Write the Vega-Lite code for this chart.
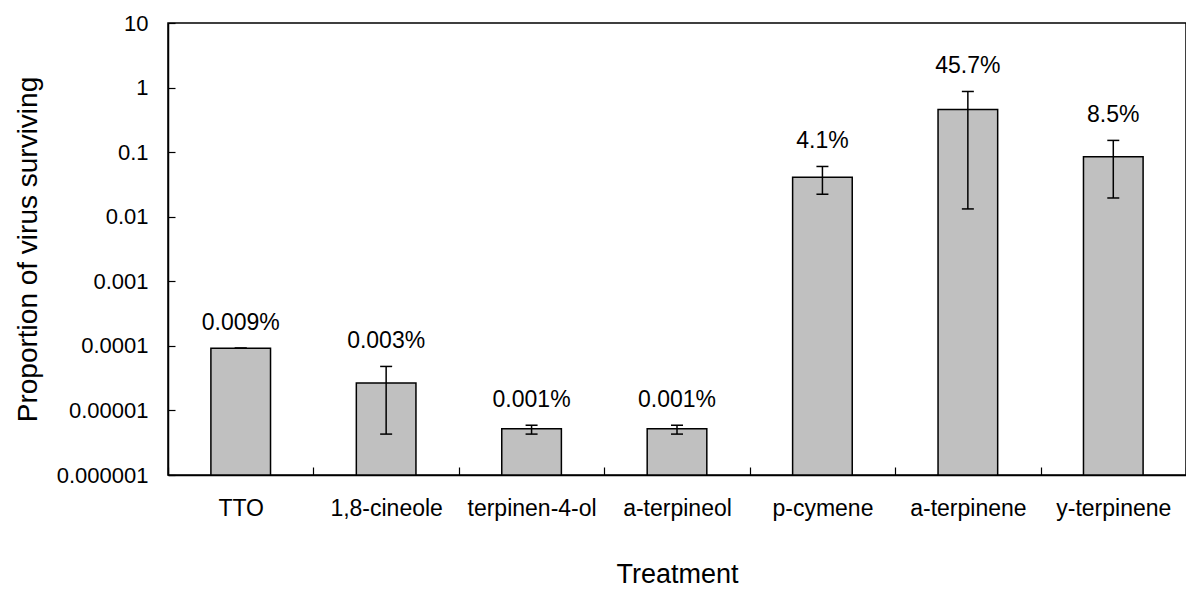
{
  "$schema": "https://vega.github.io/schema/vega-lite/v6.json",
  "width": 1018,
  "height": 452,
  "autosize": {"type": "none"},
  "padding": {"left": 168, "top": 23, "right": 0, "bottom": 118},
  "background": "white",
  "config": {
    "font": "Liberation Sans",
    "view": {"stroke": "black", "strokeWidth": 1.5},
    "axis": {
      "domainColor": "black", "domainWidth": 1.5,
      "tickColor": "black", "tickWidth": 1.2,
      "labelColor": "black", "titleColor": "black",
      "labelFont": "Liberation Sans", "titleFont": "Liberation Sans",
      "titleFontWeight": "normal", "grid": false
    }
  },
  "data": {
    "values": [
      {"treatment": "TTO", "value": 0.000092, "lo": 0.000092, "hi": 0.000092, "label": "0.009%"},
      {"treatment": "1,8-cineole", "value": 0.0000265, "lo": 0.0000043, "hi": 0.000048, "label": "0.003%"},
      {"treatment": "terpinen-4-ol", "value": 0.0000052, "lo": 0.0000043, "hi": 0.0000059, "label": "0.001%"},
      {"treatment": "a-terpineol", "value": 0.0000052, "lo": 0.0000043, "hi": 0.0000059, "label": "0.001%"},
      {"treatment": "p-cymene", "value": 0.041, "lo": 0.0223, "hi": 0.06, "label": "4.1%"},
      {"treatment": "a-terpinene", "value": 0.457, "lo": 0.0132, "hi": 0.87, "label": "45.7%"},
      {"treatment": "y-terpinene", "value": 0.085, "lo": 0.0195, "hi": 0.152, "label": "8.5%"}
    ]
  },
  "encoding": {
    "x": {
      "field": "treatment", "type": "nominal", "sort": null,
      "scale": {"paddingInner": 0, "paddingOuter": 0},
      "axis": {
        "title": "Treatment", "titleFontSize": 27, "titlePadding": 41,
        "labelFontSize": 23, "labelAngle": 0, "labelPadding": 30,
        "tickBand": "extent", "tickSize": -8
      }
    }
  },
  "layer": [
    {
      "mark": {"type": "bar", "fill": "#c0c0c0", "stroke": "black", "strokeWidth": 1.5, "width": {"band": 0.41}},
      "encoding": {
        "y": {
          "field": "value", "type": "quantitative",
          "scale": {"type": "log", "domain": [0.000001, 10], "nice": false},
          "axis": {
            "title": "Proportion of virus surviving", "titleFontSize": 28, "titlePadding": 14,
            "labelFontSize": 22, "labelPadding": 27, "tickSize": -7,
            "values": [0.000001, 0.00001, 0.0001, 0.001, 0.01, 0.1, 1, 10],
            "format": ".6~f"
          }
        },
        "y2": {"datum": 0.000001}
      }
    },
    {
      "mark": {"type": "rule", "stroke": "black", "strokeWidth": 1.5},
      "encoding": {
        "y": {"field": "lo", "type": "quantitative"},
        "y2": {"field": "hi"}
      }
    },
    {
      "mark": {"type": "tick", "orient": "horizontal", "color": "black", "size": 12, "thickness": 1.5, "opacity": 1},
      "encoding": {"y": {"field": "lo", "type": "quantitative"}}
    },
    {
      "mark": {"type": "tick", "orient": "horizontal", "color": "black", "size": 12, "thickness": 1.5, "opacity": 1},
      "encoding": {"y": {"field": "hi", "type": "quantitative"}}
    },
    {
      "mark": {"type": "text", "fontSize": 23, "color": "black", "baseline": "middle", "dy": -25},
      "encoding": {
        "y": {"field": "hi", "type": "quantitative"},
        "text": {"field": "label"}
      }
    }
  ]
}
